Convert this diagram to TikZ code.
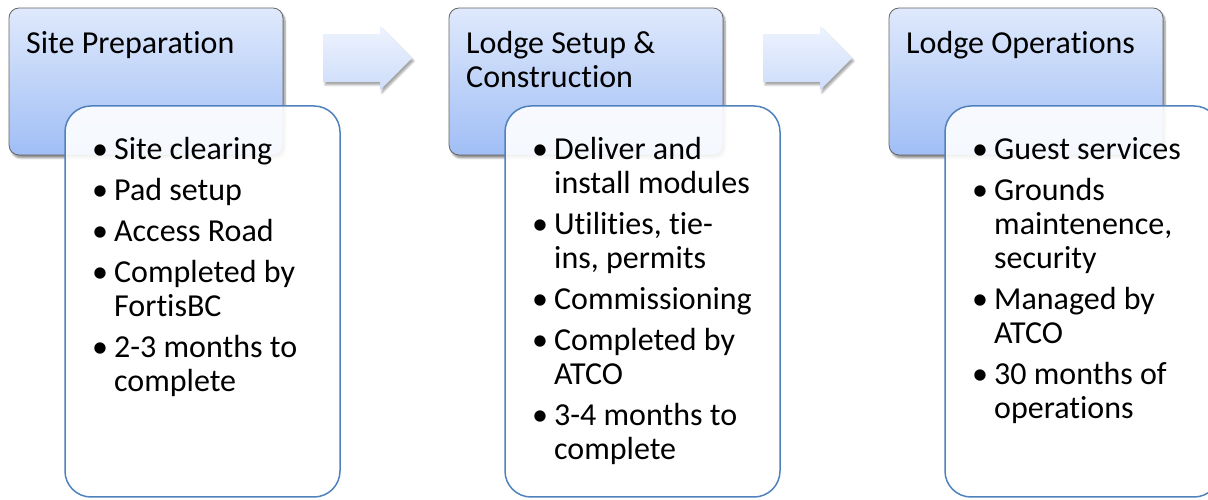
\documentclass[tikz,border=0pt]{standalone}
\usepackage{fontspec}
\setmainfont{Carlito}[Ligatures=NoCommon]
\usetikzlibrary{shapes.arrows, positioning, shadows.blur}

\definecolor{headtop}{RGB}{223,233,252}
\definecolor{headbot}{RGB}{160,190,245}
\definecolor{arrtop}{RGB}{238,243,254}
\definecolor{arrbot}{RGB}{206,221,250}
\definecolor{boxline}{RGB}{79,129,189}

\newcommand{\bul}{\makebox[22pt][l]{\textbullet}}

\begin{document}
\begin{tikzpicture}[
    x=1pt, y=1pt,
    font=\fontsize{32}{34}\selectfont,
    head/.style={draw=black!60, line width=0.8pt, rounded corners=10pt, minimum width=274pt, minimum height=147pt, outer sep=0pt, top color=headtop, bottom color=headbot, blur shadow={shadow xshift=2pt, shadow yshift=-3pt, shadow blur steps=6, shadow opacity=45}},
    title/.style={inner sep=0pt, align=left},
    blockarrow/.style={single arrow, minimum height=89pt, minimum width=64pt, inner xsep=0pt, inner ysep=21pt, outer sep=0pt, top color=arrtop, bottom color=arrbot, blur shadow={shadow xshift=2pt, shadow yshift=-3pt, shadow blur steps=6, shadow opacity=35}},
    listbox/.style={draw=boxline, line width=1.5pt, rounded corners=26pt, minimum width=275pt, minimum height=391pt, outer sep=0pt, fill=white, fill opacity=0.9},
    items/.style={inner sep=0pt}
]
    \useasboundingbox (0,0) rectangle (1208,500);
    \clip (0,0) rectangle (1208,500);

    % Stage headers
    \node[head] (head1) at (146,418.5) {};
    \node[head, right=166pt of head1] (head2) {};
    \node[head, right=166pt of head2] (head3) {};

    \node[title, below right=23pt and 17pt of head1.north west] (title1) {Site Preparation};
    \node[title, below right=23pt and 17pt of head2.north west] (title2) {Lodge Setup \&\\Construction};
    \node[title, below right=23pt and 17pt of head3.north west] (title3) {Lodge Operations};

    % Arrows between stages
    \node[blockarrow, right=40pt of head1, yshift=23.5pt] (arr1) {};
    \node[blockarrow, right=40pt of head2, yshift=23.5pt] (arr2) {};

    % Detail boxes
    \node[listbox, below right=98pt and 56pt of head1.north west] (box1) {};
    \node[listbox, below right=98pt and 56pt of head2.north west] (box2) {};
    \node[listbox, below right=98pt and 56pt of head3.north west] (box3) {};

    \node[items, below right=30pt and 27pt of box1.north west] (list1) {%
        \begin{tabular}{@{}l@{}l@{}}
        \bul & Site clearing\\[7pt]
        \bul & Pad setup\\[7pt]
        \bul & Access Road\\[7pt]
        \bul & Completed by\\
             & FortisBC\\[7pt]
        \bul & 2-3 months to\\
             & complete
        \end{tabular}};
    \node[items, below right=30pt and 27pt of box2.north west] (list2) {%
        \begin{tabular}{@{}l@{}l@{}}
        \bul & Deliver and\\
             & install modules\\[7pt]
        \bul & Utilities, tie-\\
             & ins, permits\\[7pt]
        \bul & Commissioning\\[7pt]
        \bul & Completed by\\
             & ATCO\\[7pt]
        \bul & 3-4 months to\\
             & complete
        \end{tabular}};
    \node[items, below right=30pt and 27pt of box3.north west] (list3) {%
        \begin{tabular}{@{}l@{}l@{}}
        \bul & Guest services\\[7pt]
        \bul & Grounds\\
             & maintenence,\\
             & security\\[7pt]
        \bul & Managed by\\
             & ATCO\\[7pt]
        \bul & 30 months of\\
             & operations
        \end{tabular}};

\end{tikzpicture}
\end{document}
